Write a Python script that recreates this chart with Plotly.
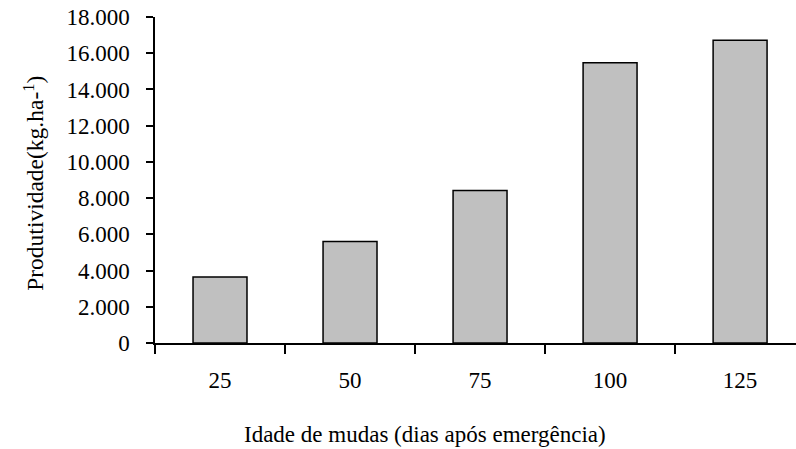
import plotly.graph_objects as go

categories = ["25", "50", "75", "100", "125"]
produtividade = [3650, 5600, 8420, 15470, 16720]
y_ticks = [0, 2000, 4000, 6000, 8000, 10000, 12000, 14000, 16000, 18000]

FONT = "Liberation Serif, Times New Roman, serif"

fig = go.Figure()
fig.add_trace(go.Bar(
    x=categories, y=produtividade, width=0.415,
    marker=dict(color="#C0C0C0", line=dict(color="black", width=1.5)),
))

fig.update_layout(
    width=796, height=449,
    margin=dict(l=155, r=0, t=17, b=106),
    paper_bgcolor="white", plot_bgcolor="white",
    separators=",.",
    showlegend=False,
    font=dict(family=FONT, size=23, color="black"),
    xaxis=dict(
        type="category", range=[-0.5, 4.43],
        showline=True, linecolor="black", linewidth=1.5,
        ticks="outside", tickson="boundaries", ticklen=9, tickwidth=1.5, tickcolor="black",
        ticklabelstandoff=16,
        showgrid=False, zeroline=False,
        tickfont=dict(family=FONT, size=23),
    ),
    yaxis=dict(
        range=[0, 18000], tickvals=y_ticks, tickformat=",d",
        showline=True, linecolor="black", linewidth=1.5,
        ticks="outside", ticklen=7, tickwidth=1.5, tickcolor="black",
        ticklabelstandoff=12,
        showgrid=False, zeroline=False,
        tickfont=dict(family=FONT, size=23),
    ),
    annotations=[
        dict(text="Idade de mudas (dias após emergência)", xref="paper", yref="paper",
             x=0.421, y=-0.2806, xanchor="center", yanchor="middle", showarrow=False,
             font=dict(family=FONT, size=23)),
        dict(text="Produtividade(kg.ha-<sup>1</sup>)", xref="paper", yref="paper",
             x=-0.19, y=0.489, xanchor="center", yanchor="middle", showarrow=False,
             textangle=-90, font=dict(family=FONT, size=23.5)),
    ],
)

fig.write_html("out.html", config={"displayModeBar": False},
               post_script="document.body.style.margin='0';document.body.style.overflow='hidden';")
